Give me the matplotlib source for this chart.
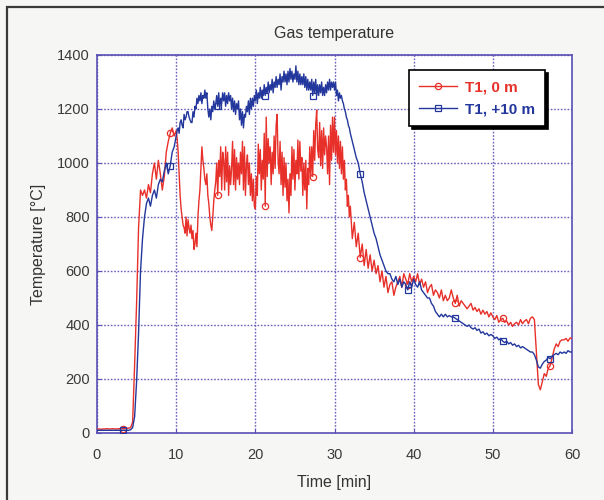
import numpy as np
import matplotlib
matplotlib.use("Agg")
import matplotlib.pyplot as plt
from matplotlib.patches import Rectangle

# Time base (min): 15 s logging, 7.5 s logging during the fully developed fire
time_min = np.concatenate([
    np.arange(0, 10, 0.25),
    np.arange(10, 32, 0.125),
    np.arange(32, 60.001, 0.25),
])

# Gas temperature at T1, 0 m (deg C)
t1_0m = [
    15, 15, 14, 15,        # 0
    15, 16, 15, 15,        # 1
    16, 15, 15, 16,        # 2
    15, 16, 16, 17,        # 3
    18, 20, 40, 250,       # 4
    480, 760, 900, 880,    # 5
    900, 870, 920, 890,    # 6
    960, 1000, 940, 1010,  # 7
    960, 900, 950, 1040,   # 8
    1080, 1110, 1130, 1100,  # 9
    # 10 .. 32 min, 8 readings per minute
    1120, 1090, 1040, 960, 880, 830, 800, 770,     # 10
    760, 740, 800, 730, 790, 760, 740, 770,        # 11
    720, 750, 680, 700, 740, 690, 800, 860,        # 12
    900, 980, 1060, 1010, 980, 940, 920, 960,      # 13
    880, 850, 800, 770, 750, 800, 860, 900,        # 14
    930, 1000, 880, 1010, 950, 1060, 900, 1040,    # 15
    1010, 900, 1060, 930, 1040, 880, 990, 920,     # 16
    980, 1080, 920, 1050, 900, 1020, 940, 1000,    # 17
    920, 1040, 960, 1080, 900, 1060, 880, 990,     # 18
    1030, 920, 1000, 880, 960, 860, 940, 840,      # 19
    830, 950, 880, 1070, 960, 1050, 900, 1010,     # 20
    940, 1110, 840, 1170, 950, 1090, 1000, 1060,   # 21
    920, 1040, 960, 1100, 980, 1140, 1180, 1010,   # 22
    960, 1080, 920, 1040, 880, 1020, 910, 1000,    # 23
    860, 940, 815, 960, 880, 1060, 940, 1050,      # 24
    900, 1010, 960, 1085, 940, 1080, 970, 1020,    # 25
    880, 1000, 900, 1010, 830, 980, 920, 1060,     # 26
    950, 1060, 950, 1120, 1010, 1140, 1196, 1050,  # 27
    1020, 1150, 990, 1120, 980, 1130, 1030, 1100,  # 28
    1060, 960, 1100, 920, 1140, 1010, 1170, 1040,  # 29
    1170, 1030, 1120, 1000, 1100, 980, 1080, 960,  # 30
    1060, 940, 1010, 900, 940, 840, 880, 800,      # 31
    # 32 .. 60 min
    840, 720, 780, 690,    # 32
    740, 650, 700, 620,    # 33
    680, 610, 660, 600,    # 34
    640, 590, 620, 560,    # 35
    600, 540, 580, 520,    # 36
    550, 560, 510, 540,    # 37
    560, 580, 540, 590,    # 38
    570, 550, 590, 560,    # 39
    580, 560, 590, 550,    # 40
    570, 540, 560, 520,    # 41
    540, 550, 510, 530,    # 42
    520, 500, 530, 490,    # 43
    510, 490, 500, 530,    # 44
    500, 480, 510, 470,    # 45
    490, 480, 470, 460,    # 46
    470, 480, 455, 465,    # 47
    450, 460, 440, 455,    # 48
    440, 450, 430, 445,    # 49
    430, 420, 435, 410,    # 50
    420, 425, 410, 415,    # 51
    400, 410, 395, 405,    # 52
    410, 400, 420, 405,    # 53
    415, 420, 405, 425,    # 54
    430, 420, 300, 180,    # 55
    160, 190, 220, 210,    # 56
    240, 250, 280, 310,    # 57
    330, 320, 340, 345,    # 58
    345, 350, 340, 352,    # 59
    350,                   # 60
]

# Gas temperature at T1, +10 m (deg C)
t1_10m = [
    10, 10, 10, 10,        # 0
    10, 10, 10, 10,        # 1
    10, 10, 10, 10,        # 2
    10, 10, 10, 10,        # 3
    10, 12, 20, 60,        # 4
    190, 370, 600, 720,    # 5
    800, 850, 870, 840,    # 6
    880, 900, 870, 920,    # 7
    940, 930, 970, 1000,   # 8
    960, 990, 1040, 1060,  # 9
    # 10 .. 32 min, 8 readings per minute
    1100, 1120, 1130, 1110, 1150, 1160, 1140, 1130,  # 10
    1180, 1160, 1170, 1190, 1190, 1170, 1160, 1150,  # 11
    1150, 1190, 1170, 1210, 1200, 1240, 1220, 1250,  # 12
    1230, 1260, 1220, 1250, 1240, 1270, 1240, 1260,  # 13
    1200, 1170, 1200, 1160, 1210, 1190, 1230, 1200,  # 14
    1220, 1250, 1210, 1260, 1200, 1240, 1220, 1260,  # 15
    1230, 1260, 1210, 1250, 1220, 1260, 1230, 1250,  # 16
    1200, 1240, 1190, 1230, 1180, 1220, 1200, 1230,  # 17
    1160, 1200, 1140, 1190, 1130, 1180, 1170, 1210,  # 18
    1190, 1230, 1180, 1240, 1200, 1240, 1210, 1250,  # 19
    1230, 1270, 1220, 1260, 1240, 1280, 1240, 1270,  # 20
    1250, 1290, 1250, 1280, 1260, 1300, 1260, 1290,  # 21
    1270, 1310, 1260, 1300, 1280, 1320, 1280, 1310,  # 22
    1290, 1330, 1270, 1320, 1300, 1340, 1300, 1330,  # 23
    1290, 1340, 1300, 1350, 1310, 1340, 1300, 1330,  # 24
    1310, 1360, 1300, 1340, 1290, 1330, 1290, 1320,  # 25
    1290, 1330, 1280, 1320, 1270, 1310, 1270, 1300,  # 26
    1270, 1310, 1250, 1300, 1260, 1310, 1250, 1290,  # 27
    1250, 1290, 1260, 1300, 1250, 1280, 1250, 1290,  # 28
    1260, 1300, 1270, 1310, 1270, 1300, 1280, 1300,  # 29
    1270, 1300, 1250, 1270, 1230, 1260, 1240, 1250,  # 30
    1230, 1220, 1200, 1190, 1170, 1160, 1140, 1130,  # 31
    # 32 .. 60 min
    1110, 1080, 1050, 1020,  # 32
    1000, 960, 930, 890,   # 33
    860, 830, 800, 770,    # 34
    740, 720, 690, 660,    # 35
    640, 620, 600, 590,    # 36
    590, 570, 560, 580,    # 37
    550, 570, 540, 560,    # 38
    550, 530, 560, 540,    # 39
    570, 550, 540, 560,    # 40
    530, 520, 510, 500,    # 41
    500, 480, 470, 450,    # 42
    440, 430, 440, 430,    # 43
    440, 430, 435, 430,    # 44
    430, 425, 420, 415,    # 45
    410, 405, 400, 395,    # 46
    400, 390, 385, 390,    # 47
    380, 385, 370, 375,    # 48
    365, 370, 360, 365,    # 49
    360, 350, 355, 345,    # 50
    350, 340, 335, 340,    # 51
    330, 335, 325, 330,    # 52
    320, 325, 315, 320,    # 53
    315, 310, 305, 300,    # 54
    300, 290, 270, 245,    # 55
    240, 255, 265, 270,    # 56
    280, 275, 285, 290,    # 57
    295, 290, 300, 295,    # 58
    300, 295, 305, 300,    # 59
    300,                   # 60
]

series_labels = ["T1, 0 m", "T1, +10 m"]
marker_times = [3.25, 9.25, 15.25, 21.25, 27.25, 33.25, 39.25, 45.25, 51.25, 57.25]
x_ticks = [0, 10, 20, 30, 40, 50, 60]
y_ticks = [0, 200, 400, 600, 800, 1000, 1200, 1400]

RED = "#e8302a"
BLUE = "#23379c"
AXIS = "#5a50b4"

plt.rcParams["font.family"] = ["Liberation Sans", "DejaVu Sans"]

marker_idx = [int(np.argmin(np.abs(time_min - t))) for t in marker_times]

fig = plt.figure(figsize=(6.04, 5.0), dpi=100, facecolor="#f6f6f4")
# page frame (left and top edges visible)
fig.patches.append(Rectangle((7 / 604, -0.2), 1.2, 1.2 - 7 / 500,
                             transform=fig.transFigure, fill=False,
                             edgecolor="#3a3a3a", linewidth=1.6, zorder=0))

ax = fig.add_axes([97 / 604, 1 - 433 / 500, 475 / 604, 378 / 500])
ax.set_facecolor("white")

ax.plot(time_min, t1_0m, color=RED, lw=1.0, marker="o", markersize=4.5,
        markeredgewidth=0.9, markerfacecolor="none", markeredgecolor=RED,
        markevery=marker_idx, label=series_labels[0], zorder=3)
ax.plot(time_min, t1_10m, color=BLUE, lw=1.0, marker="s", markersize=4.5,
        markeredgewidth=0.9, markerfacecolor="none", markeredgecolor=BLUE,
        markevery=marker_idx, label=series_labels[1], zorder=3)

ax.set_xlim(0, 60)
ax.set_ylim(0, 1400)
ax.set_xticks(x_ticks)
ax.set_yticks(y_ticks)
ax.grid(True, color=AXIS, linestyle=(0, (1.2, 1.2)), linewidth=1.0, alpha=0.9)
ax.set_axisbelow(True)
for sp in ax.spines.values():
    sp.set_color(AXIS)
    sp.set_linewidth(1.2)
ax.tick_params(direction="in", length=3, color=AXIS, labelsize=10.5,
               labelcolor="#3a3a3a")
ax.tick_params(axis="x", pad=11)
ax.tick_params(axis="y", pad=5)

ax.set_title("Gas temperature", fontsize=11.5, color="#333333", pad=12)
ax.set_xlabel("Time [min]", fontsize=11.5, color="#333333", labelpad=9)
ax.set_ylabel("Temperature [°C]", fontsize=11.5, color="#333333", labelpad=8)

leg = ax.legend(loc="upper right", bbox_to_anchor=(0.943, 0.960),
                borderaxespad=0, fontsize=11, frameon=True, fancybox=False,
                shadow={"color": "black", "alpha": 1.0},
                handlelength=2.5, borderpad=0.65, labelspacing=0.55,
                handletextpad=0.5)
leg.get_frame().set_edgecolor("black")
leg.get_frame().set_linewidth(1.2)
leg.get_frame().set_facecolor("white")
for txt, col in zip(leg.get_texts(), [RED, BLUE]):
    txt.set_color(col)
    txt.set_fontweight("bold")

fig.savefig("out.png", dpi=100, facecolor=fig.get_facecolor())
